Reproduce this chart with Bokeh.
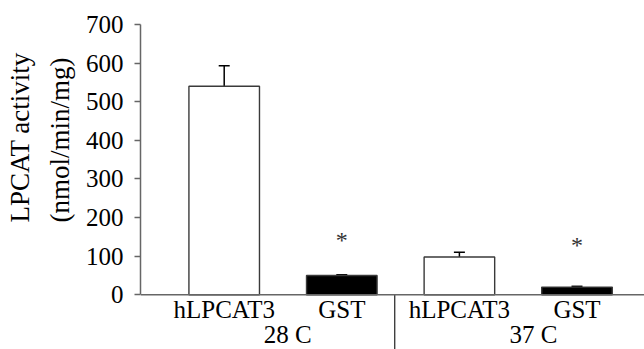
import math
from bokeh.plotting import figure
from bokeh.models import (Range1d, FixedTicker, Whisker, TeeHead, Span, Title,
                          ColumnDataSource)
from bokeh.core.properties import value
from bokeh.embed import file_html
from bokeh.resources import INLINE

# ---- data ----
groups = ["28 C", "37 C"]
constructs = ["hLPCAT3", "GST", "hLPCAT3", "GST"]
activity = [540, 50, 98, 20]
error = [53, 2, 12, 2]
bar_fill = ["white", "black", "white", "black"]
star_values = [145, 132]          # height of the significance asterisks
y_ticks = [0, 100, 200, 300, 400, 500, 600, 700]
y_title_lines = ["LPCAT activity", "(nmol/min/mg)"]

FONT = "Liberation Serif"
FS = "25px"
AX = "#666666"

# ---- layout constants (pixels of the 644x349 canvas) ----
W, H = 644, 349
LEFT, TOP, ZERO_PX = 140, 24, 294.3
PPU_Y = (ZERO_PX - TOP) / 700.0
PPU_X = 117.6
X0 = 0.5 - (223.7 - LEFT) / PPU_X
X1 = X0 + (W - LEFT) / PPU_X
Y0 = -(H - ZERO_PX) / PPU_Y
TEXT_SHIFT = 9.5   # bokeh text glyph sits lower than the nominal baseline


def ydata(py):
    return (ZERO_PX - py + TEXT_SHIFT) / PPU_Y


xs = [i + 0.5 for i in range(len(constructs))]
upper = [a + e for a, e in zip(activity, error)]

src = ColumnDataSource(dict(x=xs, top=activity, upper=upper, fill=bar_fill))

p = figure(width=W, height=H, output_backend="svg", toolbar_location=None,
           x_range=Range1d(X0, X1), y_range=Range1d(Y0, 700),
           x_axis_location=None,
           min_border_left=LEFT, min_border_right=0, min_border_top=TOP,
           min_border_bottom=0)
p.outline_line_color = None
p.xgrid.visible = False
p.ygrid.visible = False
p.background_fill_color = "white"
p.border_fill_color = "white"

# baseline
p.add_layout(Span(location=0, dimension="width", line_color=AX, line_width=1.5))

p.vbar(x="x", top="top", bottom=0, width=0.6, source=src, fill_color="fill",
       line_color="#3a3a3a", line_width=1.4)

p.add_layout(Whisker(base="x", lower="top", upper="upper", source=src,
                     line_color="black", line_width=1.5,
                     upper_head=TeeHead(size=11, line_color="black", line_width=1.5),
                     lower_head=None))

# y axis with ticks
ya = p.yaxis[0]
ya.bounds = (0, 700)
ya.ticker = FixedTicker(ticks=y_ticks)
ya.minor_tick_line_color = None
ya.major_tick_out = 6
ya.major_tick_in = 0
ya.major_label_standoff = 11
ya.axis_line_color = AX
ya.axis_line_width = 1.5
ya.major_tick_line_color = AX
ya.major_tick_line_width = 1.5
ya.major_label_text_font = FONT
ya.major_label_text_font_size = FS
ya.major_label_text_color = "black"

# y title: two left titles, both starting at the same height
for txt, so in [(y_title_lines[1], 16), (y_title_lines[0], 0)]:
    p.add_layout(Title(text=txt, align="left", offset=H - 222, standoff=so,
                       text_font=FONT, text_font_size="27px",
                       text_font_style="normal", text_color="black"), "left")

# category labels
p.text(x=xs, y=[ydata(318)] * len(xs), text=constructs, text_align="center",
       text_baseline="alphabetic", text_font=value(FONT), text_font_size=FS,
       text_color="black")

# group labels
gx = [(xs[2 * i] + xs[2 * i + 1]) / 2 + off for i, off in enumerate([0.04, 0.13])]
p.text(x=gx, y=[ydata(343)] * len(groups), text=groups, text_align="center",
       text_baseline="alphabetic", text_font=value(FONT), text_font_size=FS,
       text_color="black")

# group divider below the baseline
div_x = (xs[1] + xs[2]) / 2 - 0.05
p.segment(x0=[div_x], y0=[0], x1=[div_x], y1=[Y0], line_color="#333333",
          line_width=1.3)

# significance asterisks
p.text(x=[xs[1], xs[3]], y=star_values, text=["*", "*"], text_align="center",
       text_baseline="middle", text_font=value(FONT), text_font_size="24px",
       text_color="#333333", y_offset=1)

open("out.html", "w").write(file_html(p, INLINE))
